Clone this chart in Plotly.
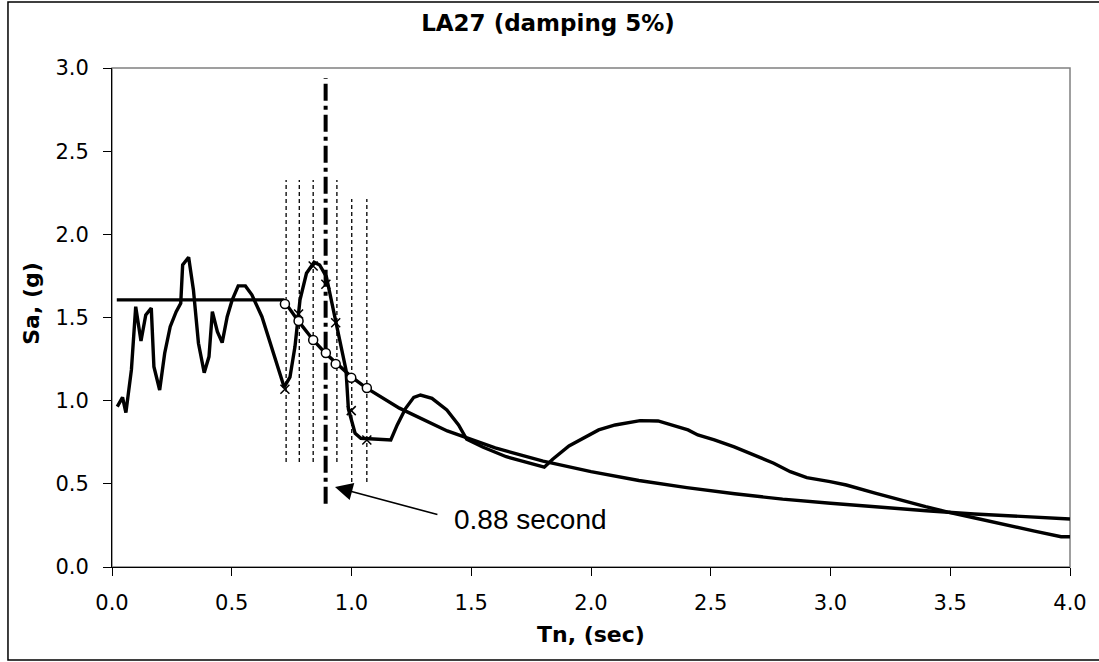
import plotly.graph_objects as go

# ---- Data ----
# Recorded LA27 response spectrum (5% damping)
T_rec = [0.022, 0.044, 0.058, 0.081, 0.099, 0.121, 0.141, 0.164, 0.175, 0.199,
         0.220, 0.243, 0.268, 0.287, 0.295, 0.320, 0.340, 0.361, 0.385, 0.405,
         0.419, 0.440, 0.460, 0.481, 0.502, 0.527, 0.557, 0.584, 0.626, 0.661,
         0.688, 0.719, 0.743, 0.764, 0.785, 0.812, 0.844, 0.867, 0.895, 0.929,
         0.977, 0.987, 1.015, 1.039, 1.164, 1.191, 1.226, 1.260, 1.288, 1.336,
         1.398, 1.447, 1.481, 1.550, 1.646, 1.805, 1.840, 1.908, 1.964, 2.032,
         2.101, 2.205, 2.280, 2.336, 2.405, 2.446, 2.515, 2.598, 2.694, 2.763,
         2.832, 2.901, 2.998, 3.066, 3.190, 3.273, 3.397, 3.494, 3.604, 3.742,
         3.852, 3.963, 4.000]
Sa_rec = [0.964, 1.020, 0.928, 1.185, 1.565, 1.359, 1.515, 1.556, 1.204, 1.064,
          1.285, 1.445, 1.535, 1.586, 1.816, 1.862, 1.666, 1.345, 1.168, 1.265,
          1.535, 1.415, 1.349, 1.505, 1.606, 1.690, 1.690, 1.636, 1.505, 1.345,
          1.235, 1.081, 1.141, 1.325, 1.606, 1.766, 1.832, 1.816, 1.746, 1.505,
          1.185, 0.950, 0.804, 0.774, 0.764, 0.854, 0.954, 1.020, 1.034, 1.014,
          0.944, 0.854, 0.768, 0.720, 0.663, 0.600, 0.648, 0.728, 0.774, 0.824,
          0.854, 0.880, 0.878, 0.854, 0.824, 0.794, 0.764, 0.722, 0.667, 0.624,
          0.573, 0.537, 0.513, 0.493, 0.443, 0.409, 0.363, 0.329, 0.293, 0.248,
          0.216, 0.182, 0.182]

# Design (target) spectrum
T_design = [0.02, 0.715, 0.78, 0.84, 0.89, 0.94, 1.00, 1.06, 1.20, 1.40, 1.60,
            1.80, 2.00, 2.20, 2.40, 2.60, 2.80, 3.00, 3.20, 3.40, 3.60, 3.80, 4.00]
Sa_design = [1.606, 1.606, 1.475, 1.365, 1.287, 1.220, 1.143, 1.078, 0.955, 0.818,
             0.716, 0.636, 0.573, 0.520, 0.477, 0.440, 0.408, 0.383, 0.359, 0.338,
             0.319, 0.302, 0.289]

# Scaling-range periods (markers)
T_marks = [0.722, 0.779, 0.840, 0.893, 0.934, 0.999, 1.064]
Sa_circle = [1.581, 1.479, 1.365, 1.287, 1.221, 1.138, 1.076]
Sa_cross = [1.069, 1.521, 1.810, 1.700, 1.469, 0.940, 0.764]

# Vertical dashed guide lines
T_dash = [0.727, 0.782, 0.840, 0.939, 1.001, 1.064]
Sa_dash_top = [2.327, 2.327, 2.327, 2.327, 2.213, 2.213]
Sa_dash_bot = [0.631, 0.631, 0.631, 0.631, 0.511, 0.511]

# Fundamental period line
T_fund = 0.892
Sa_fund_range = [0.38, 2.94]

x_ticks = [0.0, 0.5, 1.0, 1.5, 2.0, 2.5, 3.0, 3.5, 4.0]
y_ticks = [0.0, 0.5, 1.0, 1.5, 2.0, 2.5, 3.0]

FONT = "'DejaVu Sans', sans-serif"
ANN_FONT = "Arial, 'Liberation Sans', sans-serif"

fig = go.Figure()

# dashed guide lines
dx, dy = [], []
for t, top, bot in zip(T_dash, Sa_dash_top, Sa_dash_bot):
    dx += [t, t, None]
    dy += [bot, top, None]
fig.add_trace(go.Scatter(x=dx, y=dy, mode="lines",
                         line=dict(color="black", width=1.3, dash="4px,3px"),
                         hoverinfo="skip", showlegend=False))

# fundamental period dash-dot line
fig.add_trace(go.Scatter(x=[T_fund, T_fund], y=Sa_fund_range, mode="lines",
                         line=dict(color="black", width=4, dash="17px,5px,4px,5px"),
                         showlegend=False))

# spectra
fig.add_trace(go.Scatter(x=T_rec, y=Sa_rec, mode="lines",
                         line=dict(color="black", width=3.4), showlegend=False))
fig.add_trace(go.Scatter(x=T_design, y=Sa_design, mode="lines",
                         line=dict(color="black", width=3.4), showlegend=False))

# markers
fig.add_trace(go.Scatter(x=T_marks, y=Sa_cross, mode="markers",
                         marker=dict(symbol="x-thin", size=9, color="black",
                                     line=dict(color="black", width=1.5)),
                         showlegend=False))
fig.add_trace(go.Scatter(x=T_marks, y=Sa_circle, mode="markers",
                         marker=dict(symbol="circle", size=9, color="white",
                                     line=dict(color="black", width=1.5)),
                         showlegend=False))

# plot-area geometry in pixels
L, R, T, B = 112, 1079, 68, 567
W, H = 1099, 662
pw, ph = R - L, B - T

def px(xp):
    return (xp - L) / pw

def py(yp):
    return (B - yp) / ph

fig.update_layout(
    width=W, height=H,
    margin=dict(l=L, r=W - R, t=T, b=H - B),
    paper_bgcolor="white", plot_bgcolor="white",
    font=dict(family=FONT, color="black"),
    hovermode=False,
    title=dict(text="<b>LA27 (damping 5%)</b>", font=dict(size=23, family=FONT),
               x=(548) / W, xanchor="center", y=1 - 23 / H, yanchor="middle"),
    xaxis=dict(range=[0, 4], tickvals=x_ticks, ticktext=[f"{v:.1f}" for v in x_ticks],
               ticks="outside", ticklen=8, tickcolor="black", showline=True,
               linecolor="black", linewidth=1, showgrid=False, zeroline=False,
               tickfont=dict(size=21), ticklabelstandoff=9),
    yaxis=dict(range=[0, 3], tickvals=y_ticks, ticktext=[f"{v:.1f}" for v in y_ticks],
               ticks="outside", ticklen=8, tickcolor="black", showline=True,
               linecolor="black", linewidth=1, showgrid=False, zeroline=False,
               tickfont=dict(size=21), ticklabelstandoff=10),
    shapes=[
        dict(type="rect", xref="paper", yref="paper", x0=0, x1=1, y0=0, y1=1,
             line=dict(color="#808080", width=1.5), layer="below"),
        dict(type="rect", xref="paper", yref="paper",
             x0=px(7), x1=px(1110), y0=py(660), y1=py(2),
             line=dict(color="black", width=1.5), layer="below"),
    ],
    annotations=[
        dict(text="<b>Tn, (sec)</b>", xref="paper", yref="paper",
             x=px(596), y=py(634), xanchor="center", yanchor="middle",
             showarrow=False, font=dict(size=22)),
        dict(text="<b>Sa, (g)</b>", xref="paper", yref="paper",
             x=px(30), y=py(303), xanchor="center", yanchor="middle",
             textangle=-90, showarrow=False, font=dict(size=22)),
        dict(text="", x=0.931, y=0.481, xref="x", yref="y",
             ax=1.365, ay=0.313, axref="x", ayref="y",
             showarrow=True, arrowhead=2, arrowsize=2.2, arrowwidth=1.6,
             arrowcolor="black", standoff=0),
        dict(text="0.88 second", x=1.748, y=0.283, xref="x", yref="y",
             xanchor="center", yanchor="middle", showarrow=False,
             font=dict(size=28, family=ANN_FONT)),
    ],
)

fig.write_html("out.html",
               config={"displayModeBar": False, "staticPlot": True},
               post_script="document.body.style.margin='0';"
                           "document.body.style.overflow='hidden';")
